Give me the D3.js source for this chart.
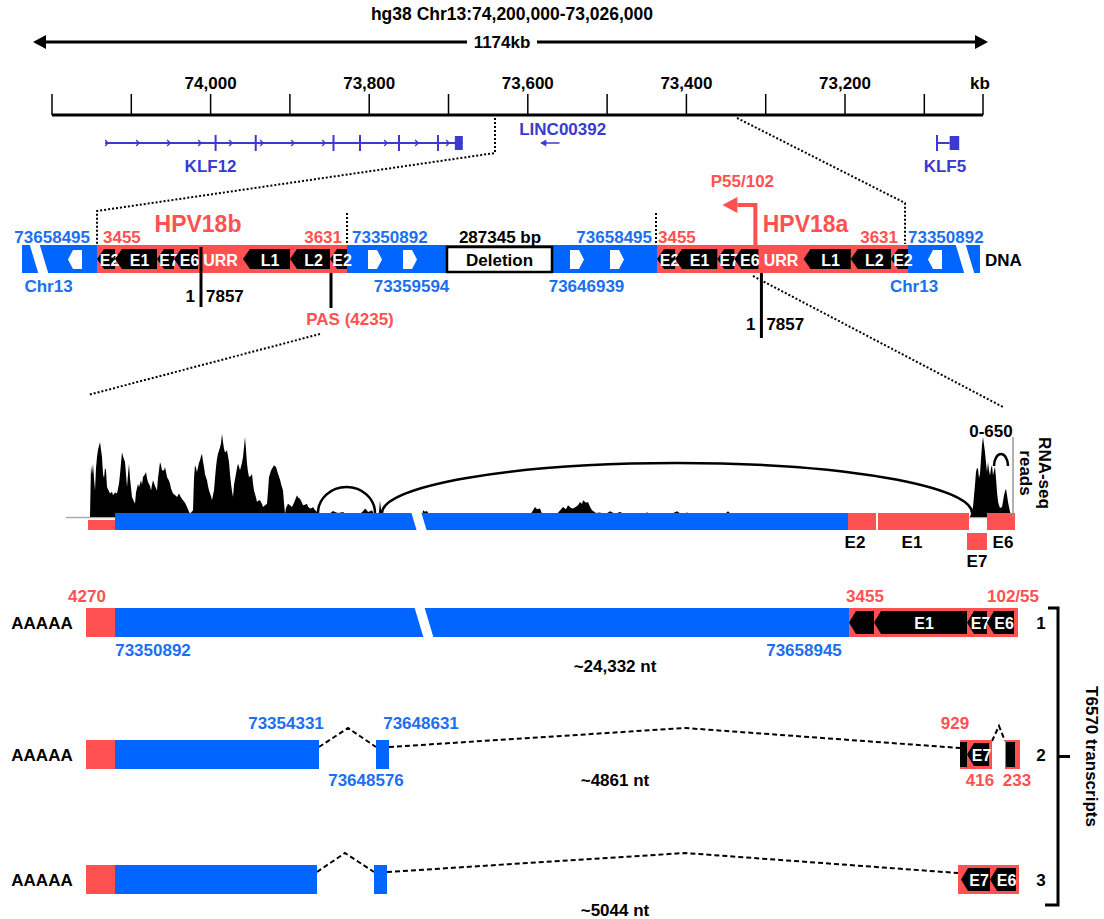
<!DOCTYPE html>
<html><head><meta charset="utf-8">
<script src="https://cdn.jsdelivr.net/npm/d3@7"></script>
<style>
body{margin:0;background:#fff}
svg{display:block;font-family:"Liberation Sans",Arial,Helvetica,sans-serif;font-weight:bold}
</style></head><body>
<svg id="c" width="1104" height="919"></svg>
<script>
// ================= DATA =================
const title = "hg38 Chr13:74,200,000-73,026,000";
const spanLabel = "1174kb";
const axisDomainKb = [74200, 73026];
const axisTicksKb = [74200,74100,74000,73900,73800,73700,73600,73500,73400,73300,73200,73100,73026];
const axisLabelsKb = [74000,73800,73600,73400,73200];
const axisUnit = "kb";

const geneNames = ["KLF12","LINC00392","KLF5"];
const geneSpansKb = [[74133,73682],[73583,73560],[73084,73056]];
const geneLabelKb = [74000,73556,73074];
const klf12ExonsKb = [73993.7,73943.1,73845,73811.6,73762.4,73713.3];
const klf12CdsKb = [73692,73682];
const klf5CdsKb = [73068,73056];

// schematic DNA track (layout units)
const dnaSegments = [
  {type:"chr", start:2,   end:77},
  {type:"hpv", start:77,  end:327, name:"HPV18b", labelAt:101},
  {type:"chr", start:327, end:637},
  {type:"hpv", start:637, end:888, name:"HPV18a", labelAt:148},
  {type:"chr", start:888, end:960}
];
const dnaBreaks = [19, 945];
const dnaArrows = [{at:55,dir:-1},{at:355,dir:1},{at:390,dir:1},{at:557,dir:1},{at:597,dir:1},{at:915,dir:-1}];
const deletion = {start:427, end:532, label:"Deletion", size:"287345 bp"};
// HPV18 insert features (schematic units, 0-250)
const hpvFeatures = [
  {name:"E2", start:0,   end:18,  orf:true},
  {name:"E1", start:18,  end:60,  orf:true},
  {name:"E7", start:60,  end:77,  orf:true},
  {name:"E6", start:77,  end:101, orf:true},
  {name:"URR",start:101, end:146, orf:false},
  {name:"L1", start:146, end:193, orf:true},
  {name:"L2", start:193, end:233, orf:true},
  {name:"E2", start:233, end:250, orf:true}
];
const hpvJunction = 104;   // 1/7857
const pasSite = 234;       // PAS (4235)
const promoterSite = 98;   // P55/102
const dnaLabelsAbove = [
  {t:"73658495",at:70,anchor:"end",c:"blue"},
  {t:"3455",at:83,anchor:"start",c:"red"},
  {t:"3631",at:322,anchor:"end",c:"red"},
  {t:"73350892",at:332,anchor:"start",c:"blue"},
  {t:"287345 bp",at:480,anchor:"middle",c:"black"},
  {t:"73658495",at:632,anchor:"end",c:"blue"},
  {t:"3455",at:638,anchor:"start",c:"red"},
  {t:"3631",at:878,anchor:"end",c:"red"},
  {t:"73350892",at:888,anchor:"start",c:"blue"}
];
const dnaLabelsBelow = [
  {t:"Chr13",at:28.5},{t:"73359594",at:391.5},{t:"73646939",at:566.5},{t:"Chr13",at:894}
];

// RNA-seq coverage [layout position, reads]
const coverage = [[66,0],[70,0],[71,400],[72,330],[73,413],[74,300],[75,206],[76,380],[77,464],[78,520],[80,580],[81,520],[82,464],[83,335],[84,300],[85,380],[86,361],[87,232],[88,215],[90,181],[92,195],[93,168],[95,190],[97,181],[99,258],[100,330],[102,503],[103,470],[105,426],[106,330],[107,232],[108,330],[109,413],[110,300],[112,155],[115,103],[116,190],[118,258],[119,230],[121,284],[122,250],[123,310],[125,330],[126,348],[127,300],[128,271],[130,240],[131,206],[132,250],[133,284],[135,240],[137,206],[138,300],[140,426],[141,400],[142,361],[144,360],[145,387],[146,350],[147,310],[149,280],[150,258],[151,220],[153,181],[155,170],[157,155],[159,181],[161,150],[163,129],[165,110],[167,77],[169,40],[170,26],[173,52],[174,300],[175,400],[176,380],[177,348],[179,420],[180,439],[181,470],[182,490],[183,430],[184,387],[185,330],[187,284],[188,240],[189,206],[191,160],[192,129],[193,170],[194,206],[195,300],[196,387],[197,450],[198,490],[200,540],[201,568],[202,645],[203,580],[204,529],[205,500],[207,516],[208,470],[209,426],[210,330],[211,258],[212,200],[213,155],[214,250],[216,335],[217,380],[218,413],[219,390],[220,361],[222,420],[223,464],[224,540],[225,619],[226,520],[227,413],[228,350],[229,310],[231,320],[232,335],[233,260],[234,206],[236,150],[237,116],[238,125],[240,129],[242,100],[243,77],[245,90],[247,103],[248,200],[249,310],[251,360],[253,387],[254,400],[256,387],[257,360],[258,335],[260,290],[261,258],[262,230],[263,206],[264,110],[265,26],[266,70],[268,103],[270,90],[272,77],[274,110],[275,129],[277,168],[278,150],[280,142],[282,110],[283,90],[285,95],[287,103],[288,80],[290,65],[292,70],[293,77],[295,55],[297,39],[299,5],[303,5],[305,20],[308,10],[311,35],[313,46],[315,38],[318,30],[321,35],[323,39],[326,20],[330,31],[333,15],[336,30],[340,26],[343,45],[345,65],[347,50],[348,39],[350,45],[352,52],[354,20],[355,5],[358,0],[359,40],[360,129],[361,60],[362,5],[367,3],[390,3],[402,3],[403,52],[405,40],[407,46],[410,5],[423,26],[430,20],[440,3],[473,3],[510,20],[512,39],[515,77],[517,60],[520,65],[523,5],[537,26],[540,50],[543,77],[546,60],[548,90],[551,70],[553,65],[556,80],[558,90],[560,116],[562,100],[563,129],[566,110],[568,116],[570,80],[572,52],[576,30],[580,34],[585,20],[590,44],[595,25],[600,39],[606,20],[613,26],[620,15],[627,34],[633,18],[640,26],[648,12],[657,44],[662,20],[667,34],[673,10],[680,18],[690,8],[697,18],[703,10],[708,44],[712,13],[720,6],[727,8],[757,5],[773,0],[950,0],[953,77],[955,250],[956,348],[957,380],[958,374],[959,300],[960,335],[961,450],[962,555],[963,619],[964,560],[965,503],[966,420],[967,348],[968,426],[969,360],[970,322],[971,380],[972,400],[973,322],[974,360],[975,387],[976,300],[977,194],[978,120],[979,90],[980,70],[982,77],[983,120],[984,168],[985,200],[986,219],[987,170],[988,116],[990,40],[991,13],[993,0]];
const coverageMax = 650;
const junctionArcs = [{from:298,to:355,h:26},{from:362,to:952,h:50},{from:974,to:988,h:12,lift:47}];
const rnaBlocks = [
  {start:68, end:95,  c:"red",  lane:"utr"},
  {start:95, end:828, c:"blue", lane:"main", brk:399},
  {start:828,end:856, c:"red",  lane:"main", label:"E2", labelAt:835},
  {start:858,end:949, c:"red",  lane:"main", label:"E1", labelAt:892},
  {start:947,end:967, c:"red",  lane:"low",  label:"E7", labelAt:957},
  {start:967,end:995, c:"red",  lane:"main", label:"E6", labelAt:983}
];

// T6570 transcripts
const transcriptIds = ["1","2","3"];
const transcriptLengths = ["~24,332 nt","~4861 nt","~5044 nt"];
const transcriptExons = [
  [{s:66,e:95,c:"red"},{s:95,e:829,c:"blue",brk:404},{s:829,e:998,c:"red",orfs:[[829,854,""],[854,947,"E1"],[947,967,"E7"],[967,994,"E6"]]}],
  [{s:66,e:95,c:"red"},{s:95,e:299,c:"blue"},{s:356,e:369,c:"blue"},{s:940,e:972,c:"red",blocks:[[940,947]],orfs:[[947,969,"E7"]]},{s:985,e:1000,c:"red",blocks:[[986,995]]}],
  [{s:66,e:95,c:"red"},{s:95,e:297,c:"blue"},{s:354,e:367,c:"blue"},{s:938,e:999,c:"red",orfs:[[941,970,"E7"],[970,996,"E6"]]}]
];
const transcriptIntrons = [
  [],
  [{s:299,e:356,peak:328},{s:369,e:940,peak:665},{s:972,e:985,peak:979,small:true}],
  [{s:297,e:354,peak:325},{s:367,e:938,peak:665}]
];
const transcriptAnnots = [
  [{t:"4270",at:67,pos:"above",c:"red"},{t:"3455",at:845,pos:"above",c:"red"},{t:"102/55",at:993,pos:"above",c:"red"},{t:"73350892",at:133,pos:"below",c:"blue"},{t:"73658945",at:784,pos:"below",c:"blue"}],
  [{t:"73354331",at:266,pos:"above",c:"blue"},{t:"73648631",at:401,pos:"above",c:"blue"},{t:"73648576",at:346,pos:"below",c:"blue"},{t:"929",at:935,pos:"above",c:"red"},{t:"416",at:960,pos:"below",c:"red"},{t:"233",at:997,pos:"below",c:"red"}],
  []
];
const polyA = "AAAAA";
const groupLabel = "T6570 transcripts";

// ================= DRAWING =================
const svg = d3.select("#c");
const COL = {blue:"#0066ff", red:"#ff5151", black:"#000"};
const TXT = {blue:"#1b6ff0", red:"#ff5151", black:"#000"};
const GENE = "#3a3ad0";
const L = d3.scaleLinear().domain([0,1000]).range([20,1020]);
const gx = d3.scaleLinear().domain(axisDomainKb).range([52,983]);
const fmt = d3.format(",");

function text(g,x,y,s,o={}){
  return g.append("text").attr("x",x).attr("y",y)
    .attr("text-anchor",o.anchor||"middle").attr("font-size",o.size||17)
    .attr("fill",o.fill||"#000").text(s);
}
function pentagon(x0,x1,y0,y1,tip){
  const ym=(y0+y1)/2;
  return [[x0,ym],[x0+tip,y0],[x1,y0],[x1,y1],[x0+tip,y1]].map(p=>p.join(",")).join(" ");
}
function breakPoly(cx,y0,y1,w,s){
  const h=y1-y0+2, t=y0-1, b=y1+1;
  return [[cx-w/2-s*h/2,t],[cx+w/2-s*h/2,t],[cx+w/2+s*h/2,b],[cx-w/2+s*h/2,b]].map(p=>p.join(",")).join(" ");
}

// ---- dotted connectors ----
const dots = svg.append("g").attr("fill","none").attr("stroke","#000").attr("stroke-width",2).attr("stroke-dasharray","2,2");
const connectors = [
  [[L(475),118],[L(475),153],[L(77),211],[L(77),244]],
  [[L(717),118],[L(885),203],[L(885),244]],
  [[L(327),213],[L(327),244]],
  [[L(636),213],[L(636),244]],
  [[L(300),334],[L(68),395]],
  [[L(733),276],[L(983),407]]
];
connectors.forEach(c=>dots.append("path").attr("d",d3.line()(c)));

// ---- title & span arrow ----
text(svg,512,20,title,{size:17.5});
const ax0=33, ax1=988, ay=42;
svg.append("line").attr("x1",ax0+10).attr("x2",ax1-10).attr("y1",ay).attr("y2",ay).attr("stroke","#000").attr("stroke-width",3);
svg.append("polygon").attr("points",`${ax0},${ay} ${ax0+13},${ay-7} ${ax0+13},${ay+7}`);
svg.append("polygon").attr("points",`${ax1},${ay} ${ax1-13},${ay-7} ${ax1-13},${ay+7}`);
svg.append("rect").attr("x",467).attr("y",33).attr("width",70).attr("height",18).attr("fill","#fff");
text(svg,502,48,spanLabel);

// ---- genomic axis ----
svg.append("line").attr("x1",gx(axisDomainKb[0])).attr("x2",gx(axisDomainKb[1])).attr("y1",115).attr("y2",115).attr("stroke","#000").attr("stroke-width",3);
svg.selectAll(".tk").data(axisTicksKb).join("line").attr("class","tk")
  .attr("x1",d=>gx(d)).attr("x2",d=>gx(d)).attr("y1",94).attr("y2",115).attr("stroke","#000").attr("stroke-width",1.5);
svg.selectAll(".tl").data(axisLabelsKb).join("text").attr("class","tl")
  .attr("x",d=>gx(d)).attr("y",89).attr("text-anchor","middle").attr("font-size",17).text(d=>fmt(d));
text(svg,gx(axisDomainKb[1])-3,89,axisUnit);

// ---- genes ----
const gg = svg.append("g").attr("stroke",GENE).attr("fill",GENE);
const gy = 143;
// KLF12
gg.append("line").attr("x1",gx(geneSpansKb[0][0])).attr("x2",gx(geneSpansKb[0][1])).attr("y1",gy).attr("y2",gy).attr("stroke-width",2);
const exX = klf12ExonsKb.map(gx);
d3.range(gx(geneSpansKb[0][0])+2, gx(klf12CdsKb[0])-4, 31).filter(x=>exX.every(e=>Math.abs(e-x)>6)).forEach(x=>{
  gg.append("polyline").attr("points",`${x-2},${gy-3} ${x+1},${gy} ${x-2},${gy+3}`).attr("fill","none").attr("stroke-width",1.3);
});
klf12ExonsKb.forEach(e=>gg.append("line").attr("x1",gx(e)).attr("x2",gx(e)).attr("y1",135).attr("y2",151).attr("stroke-width",2));
gg.append("rect").attr("x",gx(klf12CdsKb[0])).attr("width",gx(klf12CdsKb[1])-gx(klf12CdsKb[0])).attr("y",136).attr("height",14).attr("stroke","none");
// LINC00392
gg.append("line").attr("x1",gx(geneSpansKb[1][0])).attr("x2",gx(geneSpansKb[1][1])).attr("y1",gy).attr("y2",gy).attr("stroke-width",1.5);
gg.append("polygon").attr("points",`${gx(geneSpansKb[1][0])-1},${gy} ${gx(geneSpansKb[1][0])+5},${gy-3.5} ${gx(geneSpansKb[1][0])+5},${gy+3.5}`).attr("stroke","none");
// KLF5
gg.append("line").attr("x1",gx(geneSpansKb[2][0])).attr("x2",gx(geneSpansKb[2][0])).attr("y1",135).attr("y2",151).attr("stroke-width",2);
gg.append("line").attr("x1",gx(geneSpansKb[2][0])).attr("x2",gx(klf5CdsKb[0])).attr("y1",gy).attr("y2",gy).attr("stroke-width",2);
gg.append("rect").attr("x",gx(klf5CdsKb[0])).attr("width",gx(klf5CdsKb[1])-gx(klf5CdsKb[0])).attr("y",136).attr("height",14).attr("stroke","none");
geneNames.forEach((n,i)=>{
  text(svg,gx(geneLabelKb[i]), i===1?135:172, n, {fill:GENE});
});

// ---- DNA track ----
const dy0=245, dy1=273;
const dna = svg.append("g");
dnaSegments.forEach(seg=>{
  dna.append("rect").attr("x",L(seg.start)).attr("width",L(seg.end)-L(seg.start)).attr("y",dy0).attr("height",dy1-dy0)
    .attr("fill",seg.type==="chr"?COL.blue:COL.red);
});
dnaBreaks.forEach(b=>dna.append("polygon").attr("points",breakPoly(L(b),dy0,dy1,10,0.3)).attr("fill","#fff"));
dnaArrows.forEach(a=>{
  const x=L(a.at), y0=250, y1=269, ym=(y0+y1)/2;
  const pts = a.dir>0 ? [[x-7,y0],[x+2,y0],[x+7,ym],[x+2,y1],[x-7,y1]] : [[x+7,y0],[x-2,y0],[x-7,ym],[x-2,y1],[x+7,y1]];
  dna.append("polygon").attr("points",pts.map(p=>p.join(",")).join(" ")).attr("fill","#fff");
});
dna.append("rect").attr("x",L(deletion.start)).attr("width",L(deletion.end)-L(deletion.start)).attr("y",247).attr("height",25)
  .attr("fill","#fff").attr("stroke","#000").attr("stroke-width",2.5);
text(dna,(L(deletion.start)+L(deletion.end))/2,266,deletion.label);

const hpvScales = {};
dnaSegments.filter(s=>s.type==="hpv").forEach(seg=>{
  const xi = d3.scaleLinear().domain([0,250]).range([L(seg.start),L(seg.end)]);
  hpvScales[seg.name]=xi;
  hpvFeatures.forEach(f=>{
    const x0=xi(f.start), x1=xi(f.end), tip=7;
    if(f.orf) dna.append("polygon").attr("points",pentagon(x0,x1,249,269,tip)).attr("fill","#000");
    const cx = f.orf ? (x0+tip+x1)/2 : (x0+x1)/2;
    text(dna,cx,266,f.name,{size:16,fill:"#fff"});
  });
  text(dna,xi(seg.labelAt),232,seg.name,{size:23,fill:TXT.red});
});
dnaLabelsAbove.forEach(l=>text(dna,L(l.at),243,l.t,{anchor:l.anchor,fill:TXT[l.c]}));
dnaLabelsBelow.forEach(l=>text(dna,L(l.at),292,l.t,{fill:TXT.blue}));
text(dna,L(965),266,"DNA",{anchor:"start"});

// junction lines (1/7857)
const jb = hpvScales.HPV18b(hpvJunction), ja = hpvScales.HPV18a(hpvJunction);
dna.append("line").attr("x1",jb).attr("x2",jb).attr("y1",247).attr("y2",307).attr("stroke","#000").attr("stroke-width",3);
text(dna,jb-6,302,"1",{anchor:"end"}); text(dna,jb+5,302,"7857",{anchor:"start"});
dna.append("line").attr("x1",ja).attr("x2",ja).attr("y1",273).attr("y2",338).attr("stroke","#000").attr("stroke-width",3);
text(dna,ja-6,330,"1",{anchor:"end"}); text(dna,ja+5,330,"7857",{anchor:"start"});
// PAS
const px = hpvScales.HPV18b(pasSite);
dna.append("line").attr("x1",px).attr("x2",px).attr("y1",273).attr("y2",308).attr("stroke","#000").attr("stroke-width",3);
text(dna,px+19,325,"PAS (4235)",{fill:TXT.red});
// promoter P55/102
const pp = hpvScales.HPV18a(promoterSite);
dna.append("path").attr("d",`M${pp},246 V205 H${pp-18}`).attr("fill","none").attr("stroke",COL.red).attr("stroke-width",4);
dna.append("polygon").attr("points",`${pp-33},205 ${pp-18},197 ${pp-18},213`).attr("fill",COL.red);
text(dna,pp-13,187,"P55/102",{fill:TXT.red});

// ---- RNA-seq ----
const rna = svg.append("g");
const yc = d3.scaleLinear().domain([0,coverageMax]).range([517,433]);
rna.append("line").attr("x1",L(46)).attr("x2",L(95)).attr("y1",517.5).attr("y2",517.5).attr("stroke","#aaa").attr("stroke-width",1.5);
rna.append("line").attr("x1",L(949)).attr("x2",L(994)).attr("y1",517.5).attr("y2",517.5).attr("stroke","#aaa").attr("stroke-width",1.5);
rna.append("path").datum(coverage).attr("d",d3.area().x(d=>L(d[0])).y0(yc(0)).y1(d=>yc(d[1]))).attr("fill","#000");
junctionArcs.forEach(a=>{
  const x0=L(a.from), x1=L(a.to), base=513-(a.lift||0);
  rna.append("path").attr("d",`M${x0},${base} A${(x1-x0)/2},${a.h} 0 0 1 ${x1},${base}`)
    .attr("fill","none").attr("stroke","#000").attr("stroke-width",2.5);
});
const lanes = {main:[513,530], utr:[520,530], low:[533,550]};
rnaBlocks.forEach(b=>{
  const [y0,y1]=lanes[b.lane];
  rna.append("rect").attr("x",L(b.start)).attr("width",L(b.end)-L(b.start)).attr("y",y0).attr("height",y1-y0).attr("fill",COL[b.c]);
  if(b.brk) rna.append("polygon").attr("points",breakPoly(L(b.brk),y0,y1,10,0.3)).attr("fill","#fff");
  if(b.label) text(rna,L(b.labelAt),b.lane==="low"?567:548,b.label);
});
rna.append("line").attr("x1",1013).attr("x2",1013).attr("y1",437).attr("y2",517).attr("stroke","#999").attr("stroke-width",1.5);
text(rna,991,437,"0-"+coverageMax);
text(rna,0,0,"RNA-seq").attr("transform","translate(1045,473) rotate(90)").attr("dy","0.35em");
text(rna,0,0,"reads").attr("transform","translate(1026,473) rotate(90)").attr("dy","0.35em");

// ---- transcripts ----
const tg = svg.append("g");
const rowTop = [608,740,865], rowH = 29;
const aboveOff = [-6,-11,-11], belowOff = [19,17,17], lenOff = [35,17,22];
transcriptIds.forEach((id,i)=>{
  const top=rowTop[i], bot=top+rowH, mid=(top+bot)/2;
  transcriptIntrons[i].forEach(n=>{
    const x0=L(n.s), x1=L(n.e), xp=L(n.peak);
    const yb = n.small ? top+1 : top+7, yp = n.small ? top-14 : top-12;
    const yEnd = n.small ? top+1 : (n.e-n.s>100 ? top+8 : top+7);
    tg.append("path").attr("d",d3.line()([[x0,yb],[xp,yp],[x1,yEnd]]))
      .attr("fill","none").attr("stroke","#000").attr("stroke-width",2).attr("stroke-dasharray","5,3");
  });
  transcriptExons[i].forEach(ex=>{
    tg.append("rect").attr("x",L(ex.s)).attr("width",L(ex.e)-L(ex.s)).attr("y",top).attr("height",rowH).attr("fill",COL[ex.c]);
    if(ex.brk) tg.append("polygon").attr("points",breakPoly(L(ex.brk),top,bot,10,0.3)).attr("fill","#fff");
    (ex.blocks||[]).forEach(b=>tg.append("rect").attr("x",L(b[0])).attr("width",L(b[1])-L(b[0])).attr("y",top+2).attr("height",rowH-4).attr("fill","#000"));
    (ex.orfs||[]).forEach(o=>{
      const x0=L(o[0]), x1=L(o[1]), tip=7;
      tg.append("polygon").attr("points",pentagon(x0,x1,top+3,bot-3,tip)).attr("fill","#000");
      if(o[2]) text(tg,(x0+tip+x1)/2,mid+6,o[2],{size:16,fill:"#fff"});
    });
  });
  transcriptAnnots[i].forEach(a=>{
    text(tg,L(a.at),a.pos==="above"?top+aboveOff[i]:bot+belowOff[i],a.t,{fill:TXT[a.c]});
  });
  text(tg,615,bot+lenOff[i],transcriptLengths[i]);
  text(tg,42,mid+6,polyA);
  text(tg,1041,mid+6,id);
});
const bx=1058, bTop=rowTop[0], bBot=905, bMid=rowTop[1]+rowH/2+2;
tg.append("path").attr("d",`M1048,${bTop} H${bx} V${bBot} H1045 M${bx},${bMid} H1070`).attr("fill","none").attr("stroke","#000").attr("stroke-width",3);
text(tg,0,0,groupLabel).attr("transform",`translate(1092,${bMid}) rotate(90)`).attr("dy","0.35em");
</script>
</body></html>
